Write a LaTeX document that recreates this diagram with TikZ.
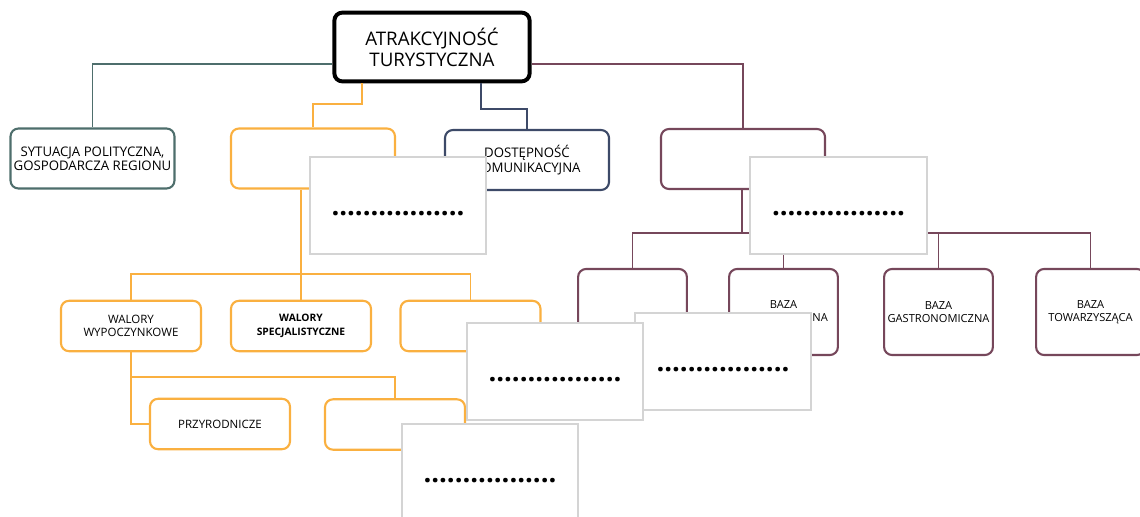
\documentclass[tikz,border=0pt]{standalone}
\usepackage{fontspec}
\setmainfont{Open Sans}
\usetikzlibrary{positioning}

\definecolor{tealline}{RGB}{78,110,108}
\definecolor{navyline}{RGB}{61,74,104}
\definecolor{orangeline}{RGB}{250,176,64}
\definecolor{maroonline}{RGB}{118,71,91}
\definecolor{greyline}{RGB}{212,212,212}

\begin{document}
\begin{tikzpicture}[x=0.025cm,y=-0.025cm]
 \tikzset{
 	box/.style={draw, rounded corners=0.2cm, line width=1.5pt, fill=white,
 		align=center, inner sep=0pt, text=black},
 	main box/.style={box, line width=2.8pt, minimum width=4.88cm, minimum height=1.72cm,
 		font=\fontsize{13.3}{15}\selectfont},
 	mid box/.style={box, minimum width=4.1cm, minimum height=1.5cm,
 		font=\fontsize{9.4}{10.2}\selectfont},
 	wal box/.style={box, draw=orangeline, minimum width=3.5cm, minimum height=1.26cm,
 		font=\fontsize{8.2}{9.6}\selectfont},
 	baza box/.style={box, draw=maroonline, minimum width=2.72cm, minimum height=2.15cm,
 		font=\fontsize{7.9}{9.2}\selectfont},
 	dots box/.style={draw=greyline, line width=1.4pt, fill=white, inner sep=0pt,
 		minimum width=4.4cm, minimum height=2.43cm, text height=18pt, text depth=4pt,
 		font=\fontsize{19.5}{20}\selectfont\bfseries},
 	link/.style={line width=1.4pt}
 }
 \clip (0,0) rectangle (1140,517);

 % top
 \node[main box] (root) at (432,47) {ATRAKCYJNOŚĆ\\TURYSTYCZNA};

 \node[mid box, draw=tealline] (sit) at (92.5,158.5) {SYTUACJA POLITYCZNA,\\GOSPODARCZA REGIONU};
 \node[mid box, draw=orangeline] (walA) at (313,158.5) {};
 \node[mid box, draw=navyline] (dost) at (527,160) {DOSTĘPNOŚĆ\\KOMUNIKACYJNA};
 \node[mid box, draw=maroonline] (bazB) at (743,159) {};

 \coordinate (kSit) at (92,64);
 \coordinate (kWal) at (362,104);
 \coordinate (kDost) at (481,109);
 \coordinate (kBaz) at (743,64);
 \draw[link, tealline] (root.west |- kSit) -| (sit.north);
 \draw[link, orangeline] (root.south -| kWal) -- (kWal) -| (walA.north);
 \draw[link, navyline] (root.south -| kDost) -- (kDost) -| (dost.north);
 \draw[link, maroonline] (root.east |- kBaz) -| (bazB.north);

 % walory
 \node[wal box] (wyp) at (131,326) {WALORY\\WYPOCZYNKOWE};
 \node[wal box, font=\fontsize{7.3}{9.6}\selectfont\bfseries] (spec) at (301,326) {WALORY\\SPECJALISTYCZNE};
 \node[wal box] (wal3) at (470.5,326) {};
 \node[wal box] (przy) at (220,424) {PRZYRODNICZE};
 \node[wal box] (wyp2) at (395,424.5) {};

 \coordinate (kWalDol) at (301,274);
 \coordinate (kWypDol) at (131,377);
 \draw[link, orangeline] (walA.south -| kWalDol) -- (spec.north);
 \draw[link, orangeline] (wyp.north) |- (kWalDol) -| (wal3.north);
 \draw[link, orangeline] (wyp.south) |- (przy.west);
 \draw[link, orangeline] (kWypDol) -| (wyp2.north);

 % baza
 \node[baza box] (c1) at (632.5,312) {};
 \node[baza box] (c2) at (783.5,312) {BAZA\\KONFERENCYJNA};
 \node[baza box] (c3) at (938.5,312) {BAZA\\GASTRONOMICZNA};
 \node[baza box] (c4) at (1090.5,312) {BAZA\\TOWARZYSZĄCA};

 \coordinate (kBazDol) at (742,233);
 \draw[link, maroonline] (bazB.south -| kBazDol) -- (kBazDol);
 \draw[link, maroonline] (c1.north) |- (kBazDol) -| (c4.north);
 \foreach \n in {c2,c3}
 	\draw[link, maroonline] (\n.north) -- (\n.north |- kBazDol);

 % puste pola
 \node[dots box] (g1) at (398,205.5) {.................};
 \node[dots box] (g2) at (838.5,205.5) {.................};
 \node[dots box] (g3) at (723,361.5) {.................};
 \node[dots box] (g4) at (555,371.5) {.................};
 \node[dots box] (g5) at (490,473) {.................};
\end{tikzpicture}
\end{document}
